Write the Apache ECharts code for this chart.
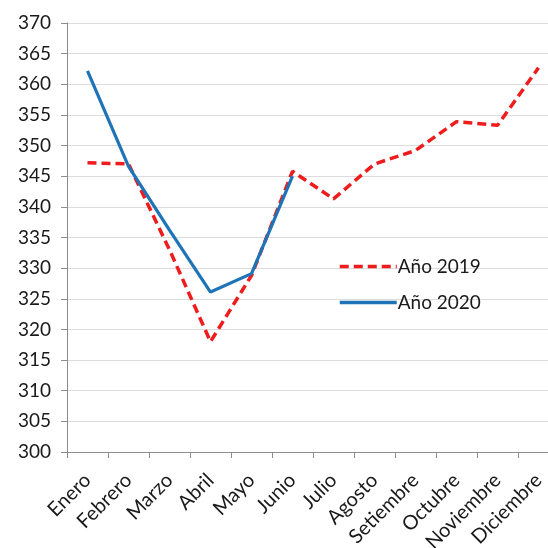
<!DOCTYPE html>
<html>
<head>
<meta charset="utf-8">
<script src="https://cdn.jsdelivr.net/npm/echarts@6/dist/echarts.min.js"></script>
<style>
  html, body { margin: 0; padding: 0; background: #ffffff; }
  #chart { width: 548px; height: 548px; }
</style>
</head>
<body>
<div id="chart"></div>
<script>
// Monthly values, 2019 vs 2020
const months = ['Enero', 'Febrero', 'Marzo', 'Abril', 'Mayo', 'Junio', 'Julio',
  'Agosto', 'Setiembre', 'Octubre', 'Noviembre', 'Diciembre'];
const values2019 = [347.2, 347.0, 333.0, 318.0, 328.8, 345.8, 341.3, 347.0, 349.2, 353.9, 353.3, 362.7];
const values2020 = [362.2, 346.6, 336.2, 326.1, 329.1, 345.0];
const seriesNames = ['Año 2019', 'Año 2020'];
const yMin = 300, yMax = 370, yStep = 5;

const FONT = 'Lato, "Open Sans", sans-serif';

const chart = echarts.init(document.getElementById('chart'), null, { renderer: 'canvas' });
chart.setOption({
  animation: false,
  backgroundColor: '#ffffff',
  // plot area runs slightly past the right edge of the canvas
  grid: { left: 67, width: 492, top: 23, height: 429, containLabel: false, outerBoundsMode: 'none' },
  legend: {
    orient: 'vertical',
    left: 338,
    top: 257,
    padding: 0,
    itemWidth: 57,
    itemHeight: 20,
    itemGap: 17,
    itemStyle: { opacity: 0 },
    lineStyle: { width: 3.5, opacity: 1 },
    textStyle: { fontFamily: FONT, fontSize: 19, color: '#1a1a1a', padding: [0, 0, 0, -4] },
    data: seriesNames.map(function (n) { return { name: n }; })
  },
  xAxis: {
    type: 'category',
    data: months,
    boundaryGap: true,
    axisLine: { lineStyle: { color: '#8c8c8c', width: 1 } },
    axisTick: { show: true, length: 6, inside: false, lineStyle: { color: '#8c8c8c' } },
    axisLabel: {
      rotate: 45,
      interval: 0,
      margin: 25,
      fontFamily: FONT,
      fontSize: 20,
      color: '#1a1a1a'
    },
    splitLine: { show: false }
  },
  yAxis: {
    type: 'value',
    min: yMin,
    max: yMax,
    interval: yStep,
    axisLine: { show: true, lineStyle: { color: '#8c8c8c', width: 1 } },
    axisTick: { show: true, length: 6, lineStyle: { color: '#8c8c8c' } },
    axisLabel: { fontFamily: FONT, fontSize: 19, color: '#1a1a1a', margin: 16 },
    splitLine: { show: true, lineStyle: { color: '#dcdcdc', width: 1.2 } }
  },
  series: [
    {
      name: seriesNames[0],
      type: 'line',
      data: values2019,
      symbol: 'none',
      z: 2,
      color: '#ee1c1c',
      lineStyle: { color: '#ee1c1c', width: 3.5, type: [9, 5] },
      itemStyle: { color: '#ee1c1c' }
    },
    {
      name: seriesNames[1],
      type: 'line',
      data: values2020,
      symbol: 'none',
      z: 3,
      color: '#1f74b8',
      lineStyle: { color: '#1f74b8', width: 3.2 },
      itemStyle: { color: '#1f74b8' }
    }
  ]
});
</script>
</body>
</html>
